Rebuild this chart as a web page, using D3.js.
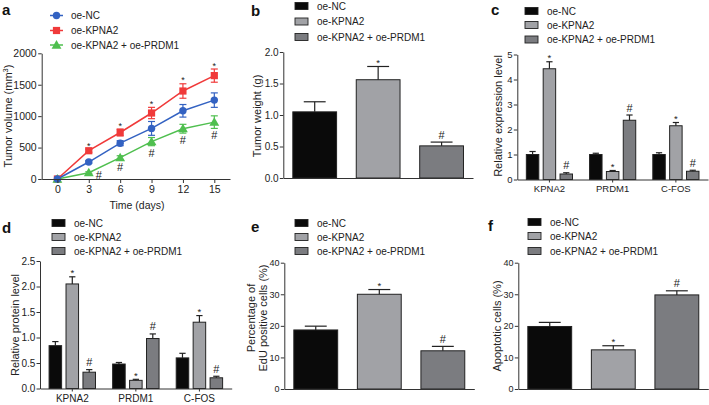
<!DOCTYPE html>
<html><head><meta charset="utf-8">
<script src="https://cdn.jsdelivr.net/npm/d3@7"></script>
<style>
body{margin:0;background:#fff;}
svg{display:block;font-family:"Liberation Sans",Arial,Helvetica,sans-serif;}
</style></head><body>
<svg id="chart" width="709" height="405"></svg>
<script>
// ---------- data ----------
const groupNames = ["oe-NC", "oe-KPNA2", "oe-KPNA2 + oe-PRDM1"];
const days = [0, 3, 6, 9, 12, 15];
const volumeNC = [0, 270, 570, 805, 1085, 1255];
const volumeNCErr = [0, 20, 40, 110, 100, 115];
const volumeKPNA2 = [0, 450, 740, 1050, 1400, 1645];
const volumeKPNA2Err = [0, 25, 55, 90, 115, 105];
const volumePRDM1 = [0, 100, 340, 595, 800, 905];
const volumePRDM1Err = [0, 15, 30, 65, 70, 100];
const volumeTicks = [0, 500, 1000, 1500, 2000];

const weight = [1.05, 1.56, 0.51];
const weightErr = [0.16, 0.21, 0.06];
const weightMarks = ["", "*", "#"];
const weightTicks = [0, 0.5, 1.0, 1.5, 2.0];

const genes = ["KPNA2", "PRDM1", "C-FOS"];
const mrnaNC = [1.0, 1.0, 1.0];
const mrnaNCErr = [0.12, 0.05, 0.07];
const mrnaKPNA2 = [4.43, 0.32, 2.15];
const mrnaKPNA2Err = [0.28, 0.04, 0.13];
const mrnaPRDM1 = [0.22, 2.37, 0.33];
const mrnaPRDM1Err = [0.05, 0.21, 0.04];
const mrnaTicks = [0, 1, 2, 3, 4, 5];

const protNC = [0.84, 0.48, 0.60];
const protNCErr = [0.08, 0.03, 0.09];
const protKPNA2 = [2.05, 0.16, 1.30];
const protKPNA2Err = [0.14, 0.02, 0.13];
const protPRDM1 = [0.32, 0.98, 0.21];
const protPRDM1Err = [0.05, 0.09, 0.03];
const protTicks = [0, 0.5, 1.0, 1.5, 2.0, 2.5];

const groupMarks = ["", "*", "#"];   // mark for each group's bars in c, d

const edu = [18.7, 30.0, 12.1];
const eduErr = [1.2, 1.5, 1.4];
const eduMarks = ["", "*", "#"];
const apop = [19.8, 12.4, 29.8];
const apopErr = [1.3, 1.3, 1.3];
const apopMarks = ["", "*", "#"];
const pctTicks = [0, 10, 20, 30, 40];

// ---------- styles ----------
const lineColors = ["#3362c2", "#f03a3a", "#4fbf4f"];
const barColors = ["#0a0a0a", "#a1a2a6", "#7b7c80"];
const axisColor = "#333";
const ink = "#222";

const svg = d3.select("#chart");

function panelLetter(x, y, t) {
  svg.append("text").attr("x", x).attr("y", y).attr("font-size", 15)
    .attr("font-weight", "bold").attr("fill", "#111").text(t);
}

// x = screen x of the visual centre of the (rotated) text line
function yTitle(x, y, text, fs) {
  svg.append("text").attr("transform", `translate(${x},${y}) rotate(-90)`)
    .attr("text-anchor", "middle").attr("dy", "0.35em").attr("font-size", fs).attr("fill", ink).text(text);
}

function styleAxis(g, fs) {
  g.select(".domain").attr("stroke", axisColor).attr("stroke-width", 1);
  g.selectAll(".tick line").attr("stroke", axisColor).attr("stroke-width", 1);
  g.selectAll(".tick text").attr("fill", ink).attr("font-size", fs)
    .attr("font-family", '"Liberation Sans",Arial,sans-serif');
}

function barLegend(x, ys) {
  groupNames.forEach((n, i) => {
    svg.append("rect").attr("x", x).attr("y", ys[i] - 3.5).attr("width", 13).attr("height", 7)
      .attr("fill", barColors[i]).attr("stroke", ink).attr("stroke-width", 0.9);
    svg.append("text").attr("x", x + 22).attr("y", ys[i]).attr("dy", "0.35em")
      .attr("font-size", 10).attr("fill", ink).text(n);
  });
}

function drawMark(x, yTop, m) {
  if (!m) return;
  if (m === "*") {
    svg.append("text").attr("x", x).attr("y", yTop - 0.5).attr("text-anchor", "middle")
      .attr("font-size", 9.5).attr("fill", ink).text("*");
  } else {
    svg.append("text").attr("x", x).attr("y", yTop - 3.5).attr("text-anchor", "middle")
      .attr("font-size", 11).attr("fill", ink).text("#");
  }
}

function barPanel(cfg) {
  const y = d3.scaleLinear().domain(cfg.domain).range([cfg.y0, cfg.y1]);
  const x = d3.scaleBand().domain(cfg.cats).range([cfg.x0, cfg.x0 + cfg.len])
    .paddingInner(cfg.pi).paddingOuter(cfg.po);
  const inner = d3.scaleBand().domain(d3.range(cfg.nSeries)).range([0, x.bandwidth()])
    .paddingInner(cfg.nSeries > 1 ? 0.26 : 0);

  const g = svg.append("g");
  cfg.bars.forEach(b => {
    const bx = x(b.cat) + inner(b.s);
    const w = inner.bandwidth();
    const cx = bx + w / 2;
    g.append("rect").attr("x", bx).attr("y", y(b.v)).attr("width", w)
      .attr("height", y(0) - y(b.v)).attr("fill", barColors[b.color])
      .attr("stroke", ink).attr("stroke-width", 1);
    const top = y(b.v + b.e);
    g.append("line").attr("x1", cx).attr("x2", cx).attr("y1", y(b.v)).attr("y2", top)
      .attr("stroke", ink).attr("stroke-width", 1.2);
    g.append("line").attr("x1", cx - w * 0.25).attr("x2", cx + w * 0.25).attr("y1", top).attr("y2", top)
      .attr("stroke", ink).attr("stroke-width", 1.2);
    drawMark(cx, top, b.m);
  });

  const ya = svg.append("g").attr("transform", `translate(${cfg.x0},0)`)
    .call(d3.axisLeft(y).tickValues(cfg.ticks).tickSize(3.5).tickSizeOuter(0).tickPadding(1.2).tickFormat(cfg.fmt));
  styleAxis(ya, cfg.fs);
  const xa = svg.append("g").attr("transform", `translate(0,${cfg.y0})`)
    .call(d3.axisBottom(x).tickSize(cfg.showCats ? 3 : 0).tickSizeOuter(0).tickPadding(3));
  styleAxis(xa, cfg.catFs || cfg.fs);
  if (!cfg.showCats) xa.selectAll(".tick text").remove();
}

function groupedBars(vals, errs) {
  const out = [];
  genes.forEach((gname, gi) => {
    vals.forEach((arr, s) => {
      out.push({ cat: gname, s: s, color: s, v: arr[gi], e: errs[s][gi], m: groupMarks[s] });
    });
  });
  return out;
}
function singleBars(vals, errs, marks) {
  return groupNames.map((n, i) => ({ cat: n, s: 0, color: i, v: vals[i], e: errs[i], m: marks[i] }));
}

// ---------- panel a ----------
(function () {
  const x = d3.scaleLinear().domain([-1.5, 16.5]).range([41.7, 230]);
  const y = d3.scaleLinear().domain([0, 2000]).range([179, 53.3]);
  const series = [
    { vals: volumeKPNA2, errs: volumeKPNA2Err, color: lineColors[1], shape: "square" },
    { vals: volumePRDM1, errs: volumePRDM1Err, color: lineColors[2], shape: "triangle" },
    { vals: volumeNC, errs: volumeNCErr, color: lineColors[0], shape: "circle" }
  ];
  const line = d3.line().x((d, i) => x(days[i])).y(d => y(d));
  function marker(g, shape, cx, cy, color) {
    if (shape === "circle") g.append("circle").attr("cx", cx).attr("cy", cy).attr("r", 3.7).attr("fill", color);
    else if (shape === "square") g.append("rect").attr("x", cx - 3.6).attr("y", cy - 3.6).attr("width", 7.2).attr("height", 7.2).attr("fill", color);
    else g.append("path").attr("transform", `translate(${cx},${cy + 0.8})`).attr("d", d3.symbol(d3.symbolTriangle, 42)()).attr("fill", color);
  }
  const g = svg.append("g");
  series.forEach(s => {
    g.append("path").attr("d", line(s.vals)).attr("fill", "none").attr("stroke", s.color).attr("stroke-width", 1.5);
  });
  series.forEach(s => {
    s.vals.forEach((v, i) => {
      const cx = x(days[i]);
      if (s.errs[i] > 0) {
        const t = y(v + s.errs[i]), b = y(v - s.errs[i]);
        g.append("line").attr("x1", cx).attr("x2", cx).attr("y1", t).attr("y2", b).attr("stroke", s.color).attr("stroke-width", 1.2);
        [t, b].forEach(yy => g.append("line").attr("x1", cx - 3.5).attr("x2", cx + 3.5).attr("y1", yy).attr("y2", yy).attr("stroke", s.color).attr("stroke-width", 1.2));
      }
      marker(g, s.shape, cx, y(v), s.color);
    });
  });
  days.forEach((d, i) => {
    if (i === 0) return;
    const top = y(volumeKPNA2[i] + volumeKPNA2Err[i]);
    svg.append("text").attr("x", x(d)).attr("y", top - 0.5).attr("text-anchor", "middle").attr("font-size", 9).attr("fill", ink).text("*");
    if (i === 1) {
      svg.append("text").attr("x", x(d) + 10).attr("y", y(volumePRDM1[i]) + 6).attr("text-anchor", "middle").attr("font-size", 11).attr("fill", ink).text("#");
    } else {
      const bot = y(volumePRDM1[i] - volumePRDM1Err[i]);
      svg.append("text").attr("x", x(d)).attr("y", bot + 11).attr("text-anchor", "middle").attr("font-size", 11).attr("fill", ink).text("#");
    }
  });
  const ya = svg.append("g").attr("transform", "translate(41.7,0)")
    .call(d3.axisLeft(y).tickValues(volumeTicks).tickSize(3.5).tickSizeOuter(0).tickPadding(1.5).tickFormat(d3.format("d")));
  styleAxis(ya, 10.5);
  const xa = svg.append("g").attr("transform", "translate(0,179)")
    .call(d3.axisBottom(x).tickValues(days).tickSize(4).tickSizeOuter(0).tickPadding(2.5).tickFormat(d3.format("d")));
  styleAxis(xa, 10.5);
  svg.append("text").attr("x", 137).attr("y", 209).attr("text-anchor", "middle").attr("font-size", 10.5).attr("fill", ink).text("Time (days)");
  const t = svg.append("text").attr("transform", "translate(8,116) rotate(-90)").attr("text-anchor", "middle")
    .attr("dy", "0.35em").attr("font-size", 11).attr("fill", ink);
  t.append("tspan").text("Tumor volume (mm");
  t.append("tspan").attr("font-size", 7.5).attr("dy", -4).text("3");
  t.append("tspan").attr("dy", 4).text(")");
  const shapes = ["circle", "square", "triangle"], ly = [15.5, 30.5, 45];
  [0, 1, 2].forEach(i => {
    svg.append("line").attr("x1", 50).attr("x2", 63).attr("y1", ly[i]).attr("y2", ly[i]).attr("stroke", lineColors[i]).attr("stroke-width", 1.5);
    marker(svg, shapes[i], 56.5, ly[i], lineColors[i]);
    svg.append("text").attr("x", 71).attr("y", ly[i]).attr("dy", "0.35em").attr("font-size", 10).attr("fill", ink).text(groupNames[i]);
  });
  panelLetter(2, 15, "a");
})();

// ---------- panel b ----------
barPanel({ x0: 283.3, len: 189.7, y0: 178, y1: 52, domain: [0, 2], ticks: weightTicks, fmt: d3.format(".1f"), fs: 10,
  cats: groupNames, nSeries: 1, pi: 0.31, po: 0.15, showCats: false, bars: singleBars(weight, weightErr, weightMarks) });
barLegend(295, [6, 21.5, 37]);
yTitle(257, 116, "Tumor weight (g)", 11);
panelLetter(251, 16, "b");

// ---------- panel c ----------
barPanel({ x0: 517.3, len: 190.7, y0: 179.5, y1: 54.5, domain: [0, 5], ticks: mrnaTicks, fmt: d3.format("d"), fs: 9.5, catFs: 9.5,
  cats: genes, nSeries: 3, pi: 0.27, po: 0.143, showCats: true,
  bars: groupedBars([mrnaNC, mrnaKPNA2, mrnaPRDM1], [mrnaNCErr, mrnaKPNA2Err, mrnaPRDM1Err]) });
barLegend(525, [11, 25, 39.5]);
yTitle(498, 116, "Relative expression level", 11);
panelLetter(491, 15, "c");

// ---------- panel d ----------
barPanel({ x0: 40, len: 191.7, y0: 388.5, y1: 261, domain: [0, 2.5], ticks: protTicks, fmt: d3.format(".1f"), fs: 10, catFs: 10,
  cats: genes, nSeries: 3, pi: 0.27, po: 0.143, showCats: true,
  bars: groupedBars([protNC, protKPNA2, protPRDM1], [protNCErr, protKPNA2Err, protPRDM1Err]) });
barLegend(52, [223, 237, 251]);
yTitle(15, 325, "Relative protein level", 11);
panelLetter(2, 233, "d");

// ---------- panel e ----------
barPanel({ x0: 284.3, len: 190, y0: 389, y1: 262.7, domain: [0, 40], ticks: pctTicks, fmt: d3.format("d"), fs: 9,
  cats: groupNames, nSeries: 1, pi: 0.31, po: 0.15, showCats: false, bars: singleBars(edu, eduErr, eduMarks) });
barLegend(295, [223, 237, 251]);
yTitle(251.5, 318, "Percentage of", 11);
yTitle(263, 318, "EdU positive cells (%)", 11);
panelLetter(251, 232, "e");

// ---------- panel f ----------
barPanel({ x0: 518.3, len: 190, y0: 389, y1: 262.7, domain: [0, 40], ticks: pctTicks, fmt: d3.format("d"), fs: 9,
  cats: groupNames, nSeries: 1, pi: 0.31, po: 0.15, showCats: false, bars: singleBars(apop, apopErr, apopMarks) });
barLegend(528, [222, 236, 251]);
yTitle(497.5, 326, "Apoptotic cells (%)", 11);
panelLetter(488, 231, "f");
</script>
</body></html>
